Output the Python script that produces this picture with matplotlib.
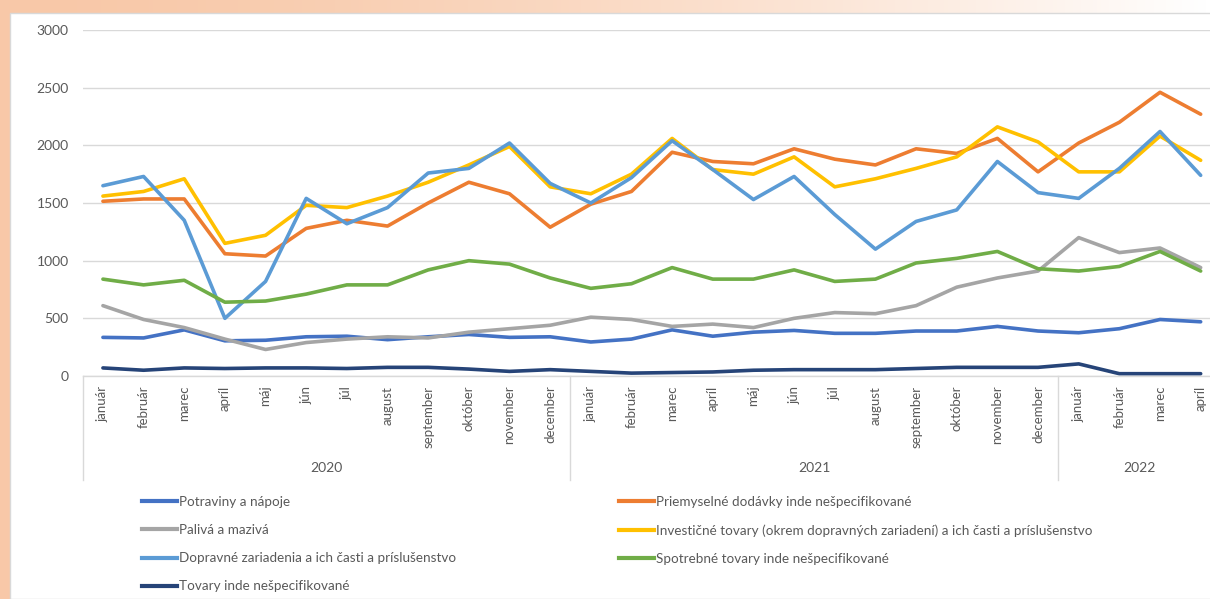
import matplotlib.pyplot as plt
import numpy as np
from matplotlib.patches import Rectangle
from matplotlib.lines import Line2D
import matplotlib.transforms as mtransforms

plt.rcParams['font.family'] = ['Lato', 'DejaVu Sans']

# Data
mesiace = ['január', 'február', 'marec', 'apríl', 'máj', 'jún', 'júl', 'august',
           'september', 'október', 'november', 'december']
roky = ['2020', '2021', '2022']
pocet_mesiacov = [12, 12, 4]
popisky = mesiace + mesiace + mesiace[:4]

potraviny = [335, 330, 400, 305, 310, 340, 345, 315, 340, 360, 335, 340,
             295, 320, 400, 345, 380, 395, 370, 370, 390, 390, 430, 390,
             375, 410, 490, 470]
priemyselne = [1515, 1535, 1535, 1060, 1040, 1280, 1350, 1300, 1500, 1680, 1580, 1290,
               1490, 1600, 1940, 1860, 1840, 1970, 1880, 1830, 1970, 1930, 2060, 1770,
               2020, 2200, 2460, 2270]
palive = [610, 490, 420, 320, 230, 290, 320, 340, 330, 380, 410, 440,
          510, 490, 430, 450, 420, 500, 550, 540, 610, 770, 850, 910,
          1200, 1070, 1110, 940]
investicne = [1560, 1600, 1710, 1150, 1220, 1480, 1460, 1560, 1680, 1830, 1990, 1640,
              1580, 1750, 2060, 1790, 1750, 1900, 1640, 1710, 1800, 1900, 2160, 2030,
              1770, 1770, 2080, 1870]
dopravne = [1650, 1730, 1350, 500, 820, 1540, 1320, 1460, 1760, 1800, 2020, 1670,
            1500, 1720, 2040, 1790, 1530, 1730, 1400, 1100, 1340, 1440, 1860, 1590,
            1540, 1800, 2120, 1740]
spotrebne = [840, 790, 830, 640, 650, 710, 790, 790, 920, 1000, 970, 850,
             760, 800, 940, 840, 840, 920, 820, 840, 980, 1020, 1080, 930,
             910, 950, 1080, 910]
ostatne = [70, 50, 70, 65, 70, 70, 65, 75, 75, 60, 40, 55,
           40, 25, 30, 35, 50, 55, 55, 55, 65, 75, 75, 75,
           105, 20, 20, 20]

serie = [
    ('Potraviny a nápoje', potraviny, '#4472C4'),
    ('Priemyselné dodávky inde nešpecifikované', priemyselne, '#ED7D31'),
    ('Palivá a mazivá', palive, '#A5A5A5'),
    ('Investičné tovary (okrem dopravných zariadení) a ich časti a príslušenstvo', investicne, '#FFC000'),
    ('Dopravné zariadenia a ich časti a príslušenstvo', dopravne, '#5B9BD5'),
    ('Spotrebné tovary inde nešpecifikované', spotrebne, '#70AD47'),
    ('Tovary inde nešpecifikované', ostatne, '#264478'),
]

W, H = 1210, 599
fig = plt.figure(figsize=(W / 100, H / 100), dpi=100)

# pozadie (oranzovy prechod)
bg = fig.add_axes([0, 0, 1, 1], zorder=-10)
bg.set_axis_off()
t = np.linspace(0, 1, 300) ** 1.6
peach = np.array([248, 200, 168]) / 255
farby = peach[None, :] * (1 - t[:, None]) + np.ones(3)[None, :] * t[:, None]
bg.imshow(farby[None, :, :], extent=[0, 1, 0, 1], aspect='auto')
bg.add_patch(Rectangle((10 / W, 0), 1, (H - 13) / H, facecolor='white',
                       edgecolor='#D9D9D9', lw=1, transform=bg.transAxes))
bg.set_xlim(0, 1)
bg.set_ylim(0, 1)

# graf
x0, x1 = 82.6, 1221.0
y_top, y_bot = 30.0, 376.0
ax = fig.add_axes([x0 / W, (H - y_bot) / H, (x1 - x0) / W, (y_bot - y_top) / H])
ax.set_facecolor('none')

x = np.arange(len(popisky))
ciary = {}
for nazov, hodnoty, farba in serie:
    ciary[nazov], = ax.plot(x, hodnoty, color=farba, lw=2.6, solid_joinstyle='round',
                            solid_capstyle='round', label=nazov)

ax.set_xlim(-0.5, len(popisky) - 0.5)
ax.set_ylim(0, 3000)
ax.set_yticks(range(0, 3001, 500))
ax.grid(axis='y', color='#D9D9D9', lw=1)
ax.set_axisbelow(True)
for s in ['left', 'right', 'top']:
    ax.spines[s].set_visible(False)
ax.spines['bottom'].set_color('#D9D9D9')
ax.spines['bottom'].set_linewidth(1)

ax.set_xticks(x)
ax.set_xticklabels(popisky, rotation=90, fontsize=9.5, color='#595959')
ax.tick_params(axis='x', length=0, pad=7)
ax.tick_params(axis='y', length=0, pad=10, labelsize=10, labelcolor='#595959')

# skupiny rokov
trans = mtransforms.blended_transform_factory(ax.transData, ax.transAxes)
dolu = -(480 - y_bot) / (y_bot - y_top)
roky_y = -(468 - y_bot) / (y_bot - y_top)
hranice = np.concatenate([[0], np.cumsum(pocet_mesiacov)]) - 0.5
for b in hranice:
    ax.plot([b, b], [0, dolu], transform=trans, color='#D9D9D9', lw=1, clip_on=False)
for i, rok in enumerate(roky):
    ax.text((hranice[i] + hranice[i + 1]) / 2, roky_y, rok, transform=trans,
            ha='center', va='center', fontsize=10, color='#595959')

# legenda v dvoch stlpcoch
def legenda(nazvy, xpix):
    h = [Line2D([], [], color=ciary[n].get_color(), lw=3) for n in nazvy]
    lg = fig.legend(h, nazvy, loc='upper left', bbox_to_anchor=(xpix / W, (H - 496) / H),
                    frameon=False, fontsize=9.7, handlelength=2.6, handletextpad=0.12,
                    labelspacing=1.2, borderpad=0, borderaxespad=0)
    for txt in lg.get_texts():
        txt.set_color('#595959')
    return lg

legenda(['Potraviny a nápoje', 'Palivá a mazivá',
         'Dopravné zariadenia a ich časti a príslušenstvo', 'Tovary inde nešpecifikované'], 142)
legenda(['Priemyselné dodávky inde nešpecifikované',
         'Investičné tovary (okrem dopravných zariadení) a ich časti a príslušenstvo',
         'Spotrebné tovary inde nešpecifikované'], 619)

fig.savefig('out.png', dpi=100)
